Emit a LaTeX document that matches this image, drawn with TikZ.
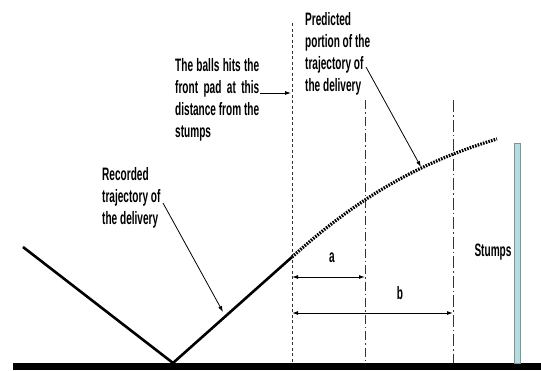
\documentclass[tikz,border=0pt]{standalone}
\usepackage{fontspec}
\newfontfamily\narrowfont[FakeStretch=0.56]{Liberation Sans Bold}
\usetikzlibrary{arrows.meta}
\definecolor{stumpfill}{HTML}{B2DEE0}
\definecolor{stumpline}{HTML}{7F9496}
\tikzset{
  lbl/.style={font=\narrowfont\fontsize{18}{22}\selectfont, inner sep=0pt, anchor=north west},
  traj/.style={line width=2.6pt},
  pred/.style={line width=3.2pt, dash pattern=on 1.6pt off 1.2pt},
  guide/.style={line width=0.8pt, black!80},
  ptr/.style={line width=0.8pt, -{Latex[length=6pt,width=4pt]}},
  dim/.style={line width=1pt, {Latex[length=6pt,width=4pt]}-{Latex[length=6pt,width=4pt]}}
}
\begin{document}
\begin{tikzpicture}[x=1pt,y=-1pt]
\useasboundingbox (0,0) rectangle (541,370);
% ground
\fill (13,363) rectangle (541,370);
% coordinates
\coordinate (start) at (23,247);
\coordinate (bounce) at (173,363);
\coordinate (pad) at (292,257);
\coordinate (endp) at (497,139);
% guides
\coordinate (g1t) at (292,23); \coordinate (g1b) at (292,363);
\coordinate (g2t) at (365,100); \coordinate (g2b) at (365,363);
\coordinate (g3t) at (453,100); \coordinate (g3b) at (453,363);
\draw[guide, dash pattern=on 3pt off 2.5pt] (g1t) -- (g1b);
\draw[guide, dash pattern=on 9pt off 3pt on 1.5pt off 3pt] (g2t) -- (g2b);
\draw[guide, dash pattern=on 12pt off 3pt on 1.5pt off 3pt] (g3t) -- (g3b);
% trajectory
\draw[traj] (start) -- (bounce) -- (pad);
\draw[pred] (pad) .. controls (350,205) and (410,165) .. (endp);
% stumps
\draw[stumpline, fill=stumpfill, line width=0.8pt] (514.5,143) rectangle (520.5,363);
% labels
\node[lbl, text width=84pt, align=justify] (hit) at (175,58) {The balls hits the front pad at this distance from the stumps};
\node[lbl, align=left] (predl) at (305,12) {Predicted\\portion of the\\trajectory of\\the delivery};
\node[lbl, align=left] (recl) at (102,167) {Recorded\\trajectory of\\the delivery};
\node[lbl, anchor=center] (stl) at (493,252) {Stumps};
\node[lbl, anchor=center] (al) at (332,258) {a};
\node[lbl, anchor=center] (bl) at (400,293) {b};
% pointers
\coordinate (hitS) at (260,93); \coordinate (hitE) at (291,93);
\draw[ptr] (hitS) -- (hitE);
\coordinate (recS) at (163,203); \coordinate (recE) at (223,312);
\draw[ptr] (recS) -- (recE);
\coordinate (preS) at (366,67); \coordinate (preE) at (421,167);
\draw[ptr] (preS) -- (preE);
% dimensions
\coordinate (a1) at (292,277); \coordinate (a2) at (365,277);
\coordinate (b1) at (292,313); \coordinate (b2) at (453,313);
\draw[dim] (a1) -- (a2);
\draw[dim] (b1) -- (b2);
\end{tikzpicture}
\end{document}
